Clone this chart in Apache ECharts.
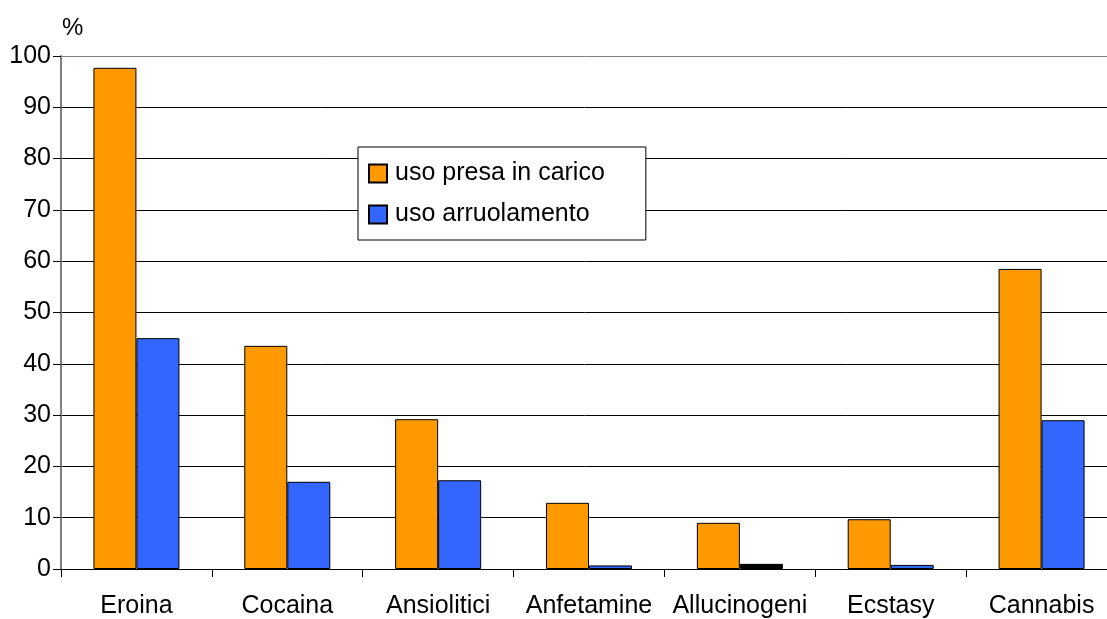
<!DOCTYPE html>
<html>
<head>
<meta charset="utf-8">
<script src="https://cdn.jsdelivr.net/npm/echarts@6/dist/echarts.min.js"></script>
<style>html,body{margin:0;padding:0;background:#fff}#c{width:1107px;height:619px}</style>
</head>
<body>
<div id="c"></div>
<script>
const categories = ['Eroina','Cocaina','Ansiolitici','Anfetamine','Allucinogeni','Ecstasy','Cannabis'];
const presaInCarico = [97.7, 43.5, 29.2, 12.9, 9.0, 9.7, 58.5];
const arruolamento = [45.0, 17.0, 17.3, 0.7, 1.0, 0.8, 29.0];
const seriesNames = ['uso presa in carico','uso arruolamento'];
const yTicks = [0,10,20,30,40,50,60,70,80,90,100];

const chart = echarts.init(document.getElementById('c'));
const font = '"Liberation Sans", Arial, sans-serif';
const gridColors = yTicks.map((t,i)=> i === yTicks.length-1 ? '#808080' : '#000');
chart.setOption({
  animation: false,
  backgroundColor: '#fff',
  textStyle: {fontFamily: font},
  grid: {left: 61, top: 56, width: 1056, bottom: 50, containLabel: false, outerBoundsMode: 'none'},
  legend: {
    orient: 'vertical', left: 358, top: 147,
    backgroundColor: '#fff', borderColor: '#000', borderWidth: 1, borderRadius: 0,
    padding: [14, 41, 13, 10],
    itemWidth: 18, itemHeight: 18, itemGap: 16,
    icon: 'rect',
    textStyle: {fontSize: 25, color: '#000', fontFamily: font, padding: [0,0,0,3]},
    data: seriesNames
  },
  xAxis: {
    type: 'category', data: categories,
    axisLine: {lineStyle: {color: '#000', width: 1}},
    axisTick: {show: true, length: 8, lineStyle: {color: '#000'}},
    axisLabel: {fontSize: 25, color: '#000', margin: 25, fontFamily: font, interval: 0},
    splitLine: {show: false}
  },
  yAxis: {
    type: 'value', min: 0, max: 100, interval: 10,
    name: '%', nameLocation: 'end', nameGap: 16,
    nameTextStyle: {fontSize: 24, color: '#000', align: 'left', padding: [0,0,0,1], fontFamily: font},
    axisLine: {show: true, lineStyle: {color: '#808080', width: 2}},
    axisTick: {show: true, length: 8, lineStyle: {color: '#000'}},
    axisLabel: {fontSize: 25, color: '#000', margin: 10, fontFamily: font},
    splitLine: {show: true, lineStyle: {color: gridColors, width: 1}}
  },
  series: [
    {name: seriesNames[0], type: 'bar', data: presaInCarico, barWidth: 43, barGap: '0%',
     itemStyle: {color: '#FF9900', borderColor: '#000', borderWidth: 1}},
    {name: seriesNames[1], type: 'bar', data: arruolamento.map((v,i)=> i===4 ? {value: v, itemStyle:{color:'#000'}} : v), barWidth: 43,
     itemStyle: {color: '#3366FF', borderColor: '#000', borderWidth: 1}}
  ]
});
</script>
</body>
</html>
